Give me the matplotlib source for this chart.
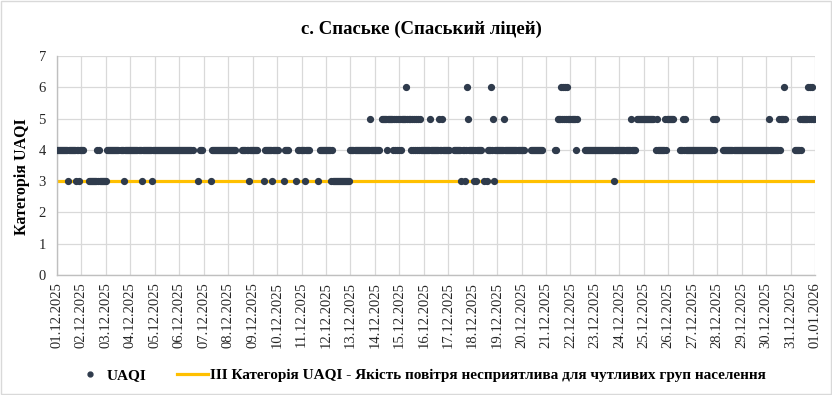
import numpy as np
import pandas as pd
import matplotlib
matplotlib.use("Agg")
import matplotlib.pyplot as plt
from matplotlib.lines import Line2D
from matplotlib.patches import Rectangle

# ---------------- data ----------------
title = "с. Спаське (Спаський ліцей)"
y_label = "Категорія UAQI"
series_label = "UAQI"
threshold_label = "III Категорія UAQI - Якість повітря несприятлива для чутливих груп населення"
threshold_level = 3
start_date = "2025-12-01"
end_date = "2026-01-01"
y_ticks = [0, 1, 2, 3, 4, 5, 6, 7]

# hourly UAQI category, one 24-char string per day ('.' = no data)
day_values = [
    "444444444443444444434434",  # 01.12
    "444....33333333434333333",  # 02.12
    "3444444444444..444344444",  # 03.12
    "444444444443444444444344",  # 04.12
    "444444444444444444444444",  # 05.12
    "44444444444444....3.444.",  # 06.12
    ".......34444444444444444",  # 07.12
    "44444444......4444443444",  # 08.12
    "44444......3444444434444",  # 09.12
    "44.....34444.......3.444",  # 10.12
    "44434444........3.444444",  # 11.12
    "444443433333333333333333",  # 12.12
    "444444444444444444454444",  # 13.12
    "44444..55555455555454545",  # 14.12
    "454555565554545454545444",  # 15.12
    "444444544444444544544444",  # 16.12
    "44....444444434434654444",  # 17.12
    "434344444..3..3444645344",  # 18.12
    "444444454444444444444444",  # 19.12
    "444......444444444444...",  # 20.12
    ".........44.555656565655",  # 21.12
    "5555545.......4444444444",  # 22.12
    "444444444444444444434444",  # 23.12
    "4444444444454444.5555555",  # 24.12
    "5555555555..454444444545",  # 25.12
    "555555.....4445454444444",  # 26.12
    "444444444444444444445455",  # 27.12
    "......444444444444444444",  # 28.12
    "444444444444444444444444",  # 29.12
    "44454444444445455565....",  # 30.12
    "....44444545555556565655",  # 31.12
]

# ---------------- build series ----------------
values = [np.nan if ch == "." else float(ch) for day in day_values for ch in day]
times = pd.date_range(start_date, periods=len(values), freq="h")
tick_dates = pd.date_range(start_date, end_date, freq="D")

plt.rcParams["font.family"] = ["Liberation Serif", "DejaVu Serif"]

dot_color = "#2F3B4C"
line_color = "#FFC000"
grid_color = "#D9D9D9"

fig = plt.figure(figsize=(8.32, 3.95), dpi=100)
ax = fig.add_axes([0.0685, 0.3038, 0.9111, 0.5544])

ax.axhline(threshold_level, color=line_color, lw=2.3, zorder=2)
ax.plot(times, values, linestyle="none", marker="o", ms=4.2,
        color=dot_color, zorder=3)

ax.set_xlim(pd.Timestamp(start_date), pd.Timestamp(end_date))
ax.set_ylim(y_ticks[0], y_ticks[-1])
ax.set_yticks(y_ticks)
ax.set_xticks(tick_dates)
ax.set_xticklabels([d.strftime("%d.%m.%Y") for d in tick_dates],
                   rotation=90, fontsize=10.5, color="#262626")
ax.tick_params(axis="y", labelsize=10.5, colors="#262626", length=0, pad=8)
ax.tick_params(axis="x", length=0, pad=5)

ax.grid(True, color=grid_color, lw=0.9, zorder=0)
ax.set_axisbelow(True)
for s in ["top", "right"]:
    ax.spines[s].set_visible(False)
for s in ["left", "bottom"]:
    ax.spines[s].set_color("#BFBFBF")
    ax.spines[s].set_linewidth(1.0)

ax.set_ylabel(y_label, fontsize=11.5, fontweight="bold")
ax.yaxis.set_label_coords(-0.036, 0.45)

fig.text(0.507, 0.925, title, ha="center", va="center",
         fontsize=13.5, fontweight="bold")

handles = [
    Line2D([], [], linestyle="none", marker="o", ms=3.5, color=dot_color,
           label=series_label),
    Line2D([], [], color=line_color, lw=2.3, label=threshold_label),
]
fig.legend(handles=handles, loc="center", bbox_to_anchor=(0.505, 0.05),
           ncol=2, frameon=False, prop={"size": 11, "weight": "bold"},
           handlelength=2.0, handletextpad=0.15, columnspacing=2.0)

fig.add_artist(Rectangle((0.0012, 0.0025), 0.9976, 0.995,
                         transform=fig.transFigure, fill=False,
                         ec="#D9D9D9", lw=1.0))

fig.savefig("out.png", dpi=100)
